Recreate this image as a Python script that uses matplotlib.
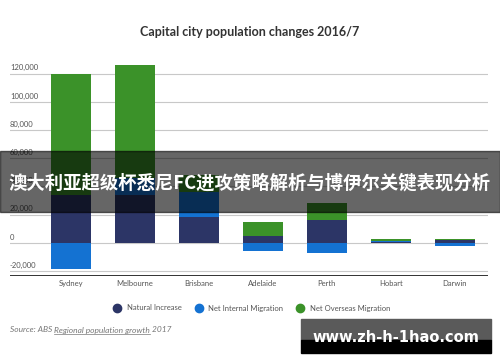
import matplotlib
matplotlib.use("Agg")
import matplotlib.pyplot as plt
import numpy as np
from matplotlib.patches import Rectangle
from matplotlib.lines import Line2D

cities = ["Sydney", "Melbourne", "Brisbane", "Adelaide", "Perth", "Hobart", "Darwin"]
natural = [33800, 34000, 18400, 5000, 16100, 800, 2200]
internal = [-18900, 12000, 17800, -5900, -7100, 600, -2300]
overseas = [86000, 80000, 11800, 9900, 11900, 1000, 300]
yticks = [-20000, 0, 20000, 40000, 60000, 80000, 100000, 120000]

NAVY = "#2c3566"; BLUE = "#1472d2"; GREEN = "#3b9229"; GRID = "#c8c8c8"; TXT = "#555555"
plt.rcParams["font.family"] = ["Lato", "DejaVu Sans"]

fig = plt.figure(figsize=(5, 3.62), dpi=100)
ax = fig.add_axes([0.02, 0.2376, 0.956, 0.598])

x = np.arange(len(cities))
nat = np.array(natural); nim = np.array(internal); nom = np.array(overseas)
pos_nim = np.clip(nim, 0, None); neg_nim = np.clip(nim, None, 0)
w = 0.62
ax.bar(x, nat, w, color=NAVY, zorder=3, label="Natural Increase")
ax.bar(x, pos_nim, w, bottom=nat, color=BLUE, zorder=3)
ax.bar(x, neg_nim, w, color=BLUE, zorder=3, label="Net Internal Migration")
ax.bar(x, nom, w, bottom=nat + pos_nim, color=GREEN, zorder=3, label="Net Overseas Migration")

ax.set_xlim(-0.95, 6.52)
ax.set_ylim(-23600, 130000)
for s in ax.spines.values():
    s.set_visible(False)
ax.set_yticks([]); ax.set_xticks([])
for v in yticks:
    ax.axhline(v, color=GRID, lw=0.8, zorder=1)
    ax.text(0.0, v + 1500, f"{v:,}", transform=ax.get_yaxis_transform(),
            ha="left", va="bottom", fontsize=5.5, color=TXT)
ax.axhline(-23600, color="#222222", lw=1.3, zorder=4)
for xi, c in zip(x, cities):
    ax.text(xi, -26500, c, ha="center", va="top", fontsize=5.5, color=TXT)

fig.text(0.5, 0.912, "Capital city population changes 2016/7", ha="center", va="center",
         fontsize=9, fontweight="bold", color="#333333")

handles = [Line2D([], [], marker="o", ls="", ms=6, color=c) for c in (NAVY, BLUE, GREEN)]
fig.legend(handles, ["Natural Increase", "Net Internal Migration", "Net Overseas Migration"],
           loc="center", bbox_to_anchor=(0.5, 1 - 308 / 362), ncol=3, frameon=False,
           fontsize=5.5, labelcolor=TXT, handletextpad=0.3, columnspacing=1.2)

# source line with underlined link text
fig.canvas.draw()
r = fig.canvas.get_renderer()
t1 = fig.text(0.02, 1 - 330 / 362, "Source: ABS ", fontsize=6, style="italic", color="#777777", va="center")
x1 = t1.get_window_extent(r).x1 / fig.bbox.width
t2 = fig.text(x1, 1 - 330 / 362, "Regional population growth", fontsize=6, style="italic", color="#777777", va="center")
e2 = t2.get_window_extent(r)
fig.add_artist(Line2D([e2.x0 / fig.bbox.width, e2.x1 / fig.bbox.width], [e2.y0 / fig.bbox.height] * 2,
                      transform=fig.transFigure, color="#777777", lw=0.5))
fig.text(e2.x1 / fig.bbox.width, 1 - 330 / 362, " 2017", fontsize=6, style="italic", color="#777777", va="center")

# overlay banner
fig.add_artist(Rectangle((0, 1 - 212 / 362), 1, 61 / 362, transform=fig.transFigure,
                         color="black", alpha=0.6, zorder=10))
fig.text(0.5, 1 - 183 / 362, "澳大利亚超级杯悉尼FC进攻策略解析与博伊尔关键表现分析", ha="center", va="center",
         fontsize=13.2, fontweight="bold", color="white", zorder=11,
         family=["Noto Sans CJK SC", "DejaVu Sans"])

# watermark
fig.add_artist(Rectangle((301 / 500, 1 - 340 / 362), 190 / 500, 21 / 362, transform=fig.transFigure,
                         color="#5a5a5a", zorder=10))
fig.add_artist(Rectangle((301 / 500, 1 - 353 / 362), 190 / 500, 13 / 362, transform=fig.transFigure,
                         color="black", zorder=10))
fig.text(396 / 500, 1 - 337 / 362, "www.zh-h-1hao.com", ha="center", va="center", fontsize=10.5,
         fontweight="bold", color="white", zorder=11, family="DejaVu Sans")

fig.savefig("out.png", dpi=100)
